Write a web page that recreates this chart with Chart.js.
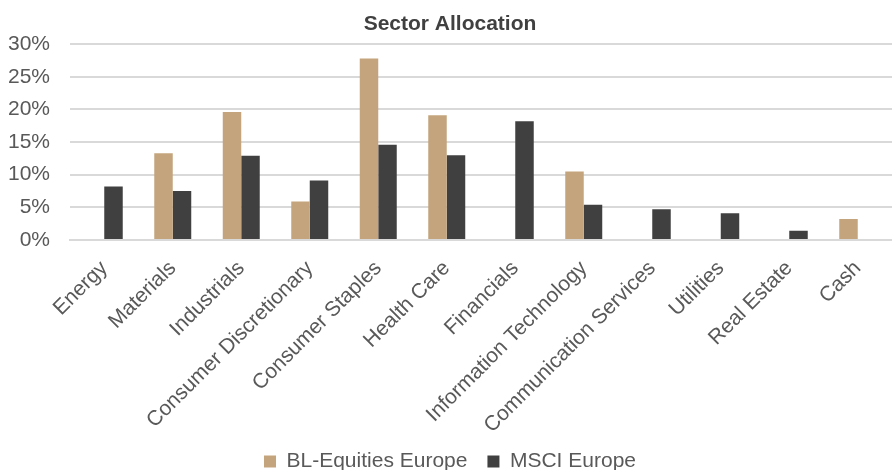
<!DOCTYPE html>
<html>
<head>
<meta charset="utf-8">
<script src="https://cdn.jsdelivr.net/npm/chart.js@4"></script>
<style>
  html, body { margin: 0; padding: 0; background: #fff; }
  #wrap { width: 892px; height: 470px; }
</style>
</head>
<body>
<div id="wrap"><canvas id="sectorChart"></canvas></div>
<script>
const sectors = ["Energy", "Materials", "Industrials", "Consumer Discretionary", "Consumer Staples", "Health Care", "Financials", "Information Technology", "Communication Services", "Utilities", "Real Estate", "Cash"];
const blEquities = [0, 13.3, 19.6, 5.9, 27.8, 19.1, 0, 10.5, 0, 0, 0, 3.2];
const msciEurope = [8.2, 7.5, 12.9, 9.1, 14.6, 13.0, 18.2, 5.4, 4.7, 4.1, 1.4, 0];
const yTicks = [0, 5, 10, 15, 20, 25, 30];

Chart.defaults.font.family = "'Liberation Sans', Arial, sans-serif";
Chart.defaults.color = "#595959";

const ctx = document.getElementById("sectorChart");

new Chart(ctx, {
  type: "bar",
  data: {
    labels: sectors,
    datasets: [
      {
        label: "BL-Equities Europe",
        data: blEquities,
        backgroundColor: "#c4a47c",
        categoryPercentage: 0.54,
        barPercentage: 1,
      },
      {
        label: "MSCI Europe",
        data: msciEurope,
        backgroundColor: "#404040",
        categoryPercentage: 0.54,
        barPercentage: 1,
      },
    ],
  },

  options: {
    responsive: true,
    maintainAspectRatio: false,
    animation: false,
    layout: { padding: { left: 8, right: 0, top: 4, bottom: -12 } },
    plugins: {
      title: {
        display: true,
        text: "Sector Allocation",
        color: "#404040",
        font: { size: 21, weight: "bold" },
        padding: { top: 8, bottom: 7 },
      },
      legend: {
        position: "bottom",
        labels: {
          color: "#595959",
          font: { size: 21 },
          boxWidth: 12,
          boxHeight: 12,
          padding: 20,
        },
      },
      tooltip: { enabled: false },
    },

    scales: {
      x: {
        grid: { display: false },
        border: { color: "#d9d9d9", width: 2 },
        // let the rotated labels run into the free space above the legend
        afterFit: (scale) => {
          scale.height -= 15;
        },
        ticks: {
          color: "#595959",
          font: { size: 21 },
          maxRotation: 45,
          minRotation: 45,
          autoSkip: false,
          padding: 8,
        },
      },

      y: {
        min: 0,
        max: 30,
        afterBuildTicks: (axis) => {
          axis.ticks = yTicks.map((v) => ({ value: v }));
        },
        afterFit: (scale) => {
          scale.width = 62;
        },
        grid: { color: "#d9d9d9", lineWidth: 2, drawTicks: false },
        border: { display: false },
        ticks: {
          color: "#595959",
          font: { size: 21 },
          padding: 20,
          callback: (v) => v + "%",
        },
      },
    },
  },
});
</script>
</body>
</html>
